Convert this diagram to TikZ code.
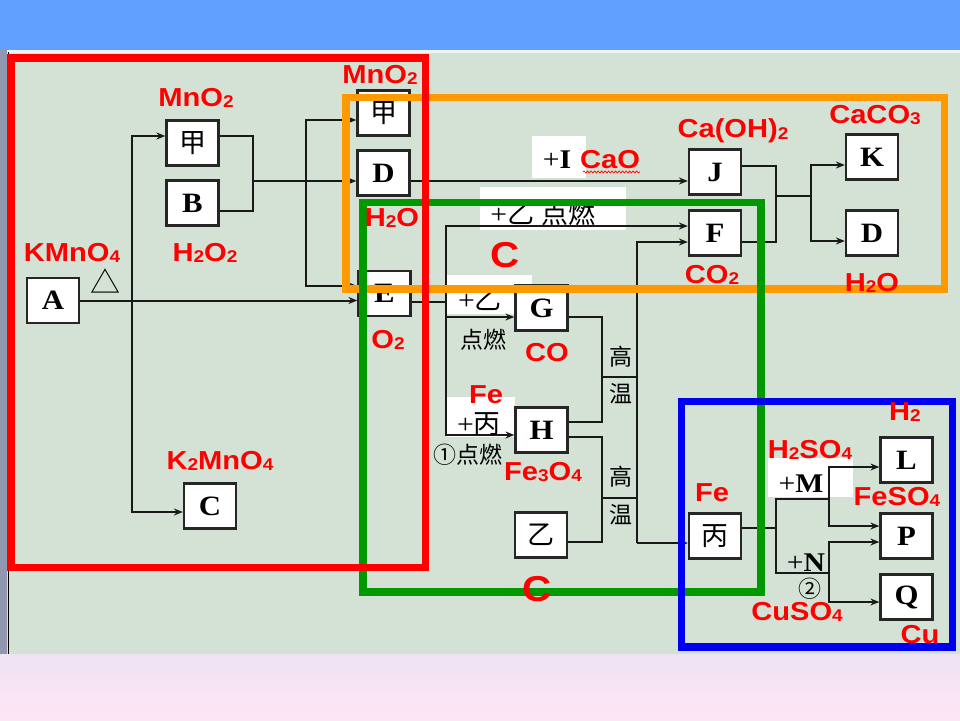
\documentclass[tikz,border=0pt]{standalone}
\usepackage{fontspec}
\usetikzlibrary{calc,arrows.meta,decorations.pathmorphing}
\setmainfont{Liberation Serif}[FakeStretch=1.1]
\newfontfamily\labf{Liberation Sans}[FakeStretch=1.12]
\newfontfamily\cjk{Noto Sans CJK SC}
\definecolor{topblue}{HTML}{62A0FF}
\definecolor{mainbg}{HTML}{D4E2D6}
\definecolor{frred}{HTML}{FF0000}
\definecolor{frorange}{HTML}{FF9900}
\definecolor{frgreen}{HTML}{009A00}
\definecolor{frblue}{HTML}{0000F0}
\definecolor{leftgray}{HTML}{9098B0}
\definecolor{pinkA}{HTML}{EEE2F3}
\definecolor{pinkB}{HTML}{FDE6F6}
\newcommand{\myss}[1]{\raisebox{-1.5pt}{\fontsize{17}{17}\selectfont #1}}
\begin{document}
\begin{tikzpicture}[x=1pt,y=-1pt,
  box/.style={draw=black!85,line width=2.2pt,fill=white,minimum width=52pt,minimum height=45pt,inner sep=0pt,font=\fontsize{28}{28}\selectfont\bfseries},
  cbox/.style={box,font=\cjk\fontsize{27}{27}\selectfont},
  con/.style={line width=2pt,draw=black!90},
  arr/.style={con,-{Stealth[length=9pt,width=7pt]}},
  lab/.style={text=frred,font=\labf\bfseries\fontsize{26}{26}\selectfont,inner sep=0pt},
  bigc/.style={text=frred,font=\labf\bfseries\fontsize{36}{36}\selectfont,inner sep=0pt},
  blk/.style={text=black,font=\fontsize{27}{27}\selectfont,inner sep=0pt},
  cj/.style={text=black,font=\cjk\fontsize{23}{23}\selectfont,inner sep=0pt},
  frame/.style={line width=7.5pt}]
\useasboundingbox (0,0) rectangle (960,720);
% background
\fill[topblue] (0,0) rectangle (960,50);
\fill[mainbg] (0,50) rectangle (960,654);
\fill[white!60!mainbg] (0,50) rectangle (960,52.5);
\shade[top color=pinkA,bottom color=pinkB] (0,654) rectangle (960,720);
\fill[leftgray] (0,50) rectangle (7,654);
\draw[black,line width=0.8pt] (8,52) -- (8,654);
% white label backgrounds
\fill[white] (532,136) rectangle (586,178);
\fill[white] (480,187) rectangle (626,230);
\fill[white] (447,275) rectangle (532,314);
\fill[white] (447,397) rectangle (515,437);
\fill[white] (768,458) rectangle (853,497);
% boxes
\node[box] (A) at (53,300.5) {A};
\node[cbox] (jia1) at (192.5,143) {甲};
\node[box] (B) at (192.5,203) {B};
\node[cbox] (jia2) at (383.5,113) {甲};
\node[box] (D1) at (383.5,173) {D};
\node[box] (E) at (384.5,293.5) {E};
\node[box] (J) at (715,172) {J};
\node[box] (F) at (715,233) {F};
\node[box] (K) at (872,157) {K};
\node[box] (D2) at (872,233) {D};
\node[box] (G) at (541.5,308) {G};
\node[box] (H) at (541.5,430) {H};
\node[cbox] (yi) at (541,535) {乙};
\node[box] (C) at (210,506) {C};
\node[cbox] (bing) at (715,536) {丙};
\node[box] (L) at (906.5,460) {L};
\node[box] (P) at (906.5,536) {P};
\node[box] (Q) at (906.5,597) {Q};
% connectors
\coordinate (b1) at (132,300.5);
\draw[arr] (A.east) -- (A.east -| E.west);
\draw[arr] (b1) |- ($(jia1.west)+(0,-7)$);
\draw[arr] (b1) |- ($(C.west)+(0,6)$);
\coordinate (m1) at (253,181);
\coordinate (j2) at (306,181);
\draw[con] ($(jia1.east)+(0,-7)$) -| (m1) |- ($(B.east)+(0,8)$);
\draw[arr] (m1) -- (m1 -| D1.west);
\draw[arr] (j2) |- ($(jia2.west)+(0,7)$);
\draw[arr] (j2) |- ($(E.west)+(0,-7.5)$);
\coordinate (dj) at ($(D1.east)+(0,8)$);
\draw[arr] (dj) -- (dj -| J.west);
\coordinate (e1) at ($(E.east)+(0,8.5)$);
\coordinate (v1) at (446,302);
\draw[con] (e1) -- (v1);
\draw[arr] (v1) |- ($(F.west)+(0,-7)$);
\draw[arr] (v1) |- ($(G.west)+(0,9)$);
\draw[arr] (v1) |- ($(H.west)+(0,5)$);
\coordinate (hb1) at (602,377);
\coordinate (hb2) at (602,498);
\coordinate (vx) at (637,377);
\coordinate (f2) at ($(F.west)+(0,9)$);
\coordinate (bi) at ($(bing.west)+(0,7)$);
\draw[con] ($(G.east)+(0,9)$) -| (hb1) |- ($(H.east)+(0,-8)$);
\draw[con] ($(H.east)+(0,7)$) -| (hb2) |- ($(yi.east)+(0,7)$);
\draw[con] (hb1) -- (vx);
\draw[con] (hb2) -- (hb2 -| vx);
\draw[arr] (vx |- bi) |- (f2);
\draw[arr] (vx |- bi) -- (bi);
\coordinate (jf) at (776,196);
\coordinate (kd) at (811,196);
\draw[con] ($(J.east)+(0,-6)$) -| (jf) |- ($(F.east)+(0,9)$);
\draw[con] (jf) -- (kd);
\draw[arr] (kd) |- ($(K.west)+(0,8)$);
\draw[arr] (kd) |- ($(D2.west)+(0,8)$);
\coordinate (bo) at ($(bing.east)+(0,-8)$);
\coordinate (jx) at (776,528);
\coordinate (mt) at (829,499);
\coordinate (nb) at (829,573);
\draw[con] (bo) -- (jx);
\draw[con] (mt) -| (jx) |- (nb);
\draw[arr] (mt) |- ($(L.west)+(0,7)$);
\draw[arr] (mt) |- ($(P.west)+(0,-10)$);
\draw[arr] (nb) |- ($(P.west)+(0,6)$);
\draw[arr] (nb) |- ($(Q.west)+(0,5)$);
% black annotations
\node[blk] (tI) at (557,160) {+\textbf{I}};
\node[blk] (tYiA) at (543,213) {+{\cjk 乙} {\cjk 点燃}};
\node[blk] (tYiB) at (480,300) {+{\cjk 乙}};
\node[cj] (tDrA) at (483,340) {点燃};
\node[blk] (tBing) at (479,424) {+{\cjk 丙}};
\node[cj] (tDrB) at (468,455) {①点燃};
\node[cj] (gA) at (621,357) {高};
\node[cj] (wA) at (621,394) {温};
\node[cj] (gB) at (621,477) {高};
\node[cj] (wB) at (621,515) {温};
\node[blk] (tM) at (801,484) {+\textbf{M}};
\node[blk] (tN) at (806,563) {+\textbf{N}};
\node[cj] (cTwo) at (810,589) {②};
\node[cj,font=\cjk\fontsize{30}{30}\selectfont] (heat) at (105,281) {△};
% frames
\draw[frame,frorange] (346,97.5) rectangle (944.5,289);
\draw[frame,frgreen] (363,202.5) rectangle (761,592);
\draw[frame,frred] (11,58) rectangle (425.5,567.5);
\draw[frame,frblue] (681.5,401.5) rectangle (952.5,647);
% red labels
\node[lab] (r1) at (196,98) {MnO\myss{2}};
\node[lab] (r2) at (205,253) {H\myss{2}O\myss{2}};
\node[lab] (r3) at (72,253) {KMnO\myss{4}};
\node[lab] (r4) at (380,75) {MnO\myss{2}};
\node[lab] (r5) at (392,218) {H\myss{2}O};
\node[bigc] (r6) at (505,255) {C};
\node[lab] (r7) at (610,160) {CaO};
\draw[frred,line width=0.7pt,decorate,decoration={snake,amplitude=1pt,segment length=3.5pt}] (583,172) -- (640,172);
\node[lab] (r8) at (733,131) {Ca(OH)\myss{2}};
\node[lab] (r9) at (875,115) {CaCO\myss{3}};
\node[lab] (r10) at (712,275) {CO\myss{2}};
\node[lab] (r11) at (872,283) {H\myss{2}O};
\node[lab] (r12) at (220,461) {K\myss{2}MnO\myss{4}};
\node[lab] (r13) at (388,340) {O\myss{2}};
\node[lab] (r14) at (547,353) {CO};
\node[lab] (r15) at (486,395) {Fe};
\node[lab] (r16) at (543,472) {Fe\myss{3}O\myss{4}};
\node[bigc] (r17) at (537,589) {C};
\node[lab] (r18) at (712,493) {Fe};
\node[lab] (r19) at (810,450) {H\myss{2}SO\myss{4}};
\node[lab] (r20) at (897,497) {FeSO\myss{4}};
\node[lab] (r21) at (797,612) {CuSO\myss{4}};
\node[lab] (r22) at (905,412) {H\myss{2}};
\node[lab] (r23) at (920,635) {Cu};
\end{tikzpicture}
\end{document}
